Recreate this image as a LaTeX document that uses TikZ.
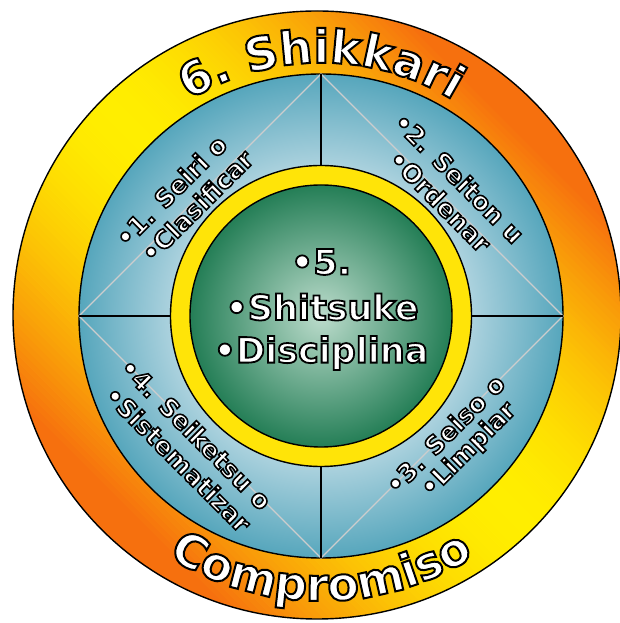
\documentclass[tikz,border=0pt]{standalone}
\usepackage{fontspec}
\setmainfont{DejaVu Sans}
\usetikzlibrary{decorations.text}

\definecolor{ringO}{RGB}{246,112,14}
\definecolor{ringY}{RGB}{255,238,0}
\definecolor{blueL}{RGB}{172,210,222}
\definecolor{blueD}{RGB}{86,166,188}
\definecolor{yel}{RGB}{255,228,8}
\definecolor{greenL}{RGB}{188,220,204}
\definecolor{greenD}{RGB}{36,126,86}
\definecolor{diag}{RGB}{205,205,205}

\pgfdeclareradialshading{bluesh}{\pgfpoint{0bp}{0bp}}{color(0bp)=(blueL); color(15.5bp)=(blueL); color(25bp)=(blueD); color(50bp)=(blueD)}
\pgfdeclareradialshading{greensh}{\pgfpoint{0bp}{0bp}}{color(0bp)=(greenL); color(25bp)=(greenD); color(50bp)=(greenD)}

% white text with a black outline (PDF text render mode 2)
\newcommand\olt[2][1.6]{{\color{white}\special{pdf:literal direct 0 0 0 RG #1 w 2 Tr}#2\special{pdf:literal direct 0 Tr}}}

\newcommand\ringfont{\fontsize{25}{29}\selectfont\bfseries}
\newcommand\centfont{\fontsize{35}{40}\selectfont\bfseries}
\newcommand\arcfont{\fontsize{46}{52}\selectfont\bfseries}

% #1 text, #2 start angle, #3 end angle, #4 radius
\newcommand\arctext[4]{%
  \path[shift={(C)}, decorate,
    decoration={text along path, text align=center,
      text={|\arcfont\color{white}\special{pdf:literal direct 0 0 0 RG 2 w 2 Tr}|#1}}]
    (#2:#4) arc[start angle=#2, end angle=#3, radius=#4];
}

\tikzset{
  rim/.style={draw=black, line width=1.4pt},
  diagline/.style={draw=diag, line width=1.2pt},
  divline/.style={draw=black, line width=1.2pt},
  lbl/.style={inner sep=0pt, font=\ringfont},
  clbl/.style={inner sep=0pt, font=\centfont}
}

\begin{document}
\begin{tikzpicture}[x=1pt, y=1pt]
\useasboundingbox (0,0) rectangle (620,623);
\fill[white] (0,0) rectangle (620,623);

\coordinate (O) at (317,308);
\coordinate (C) at (321,307);
\coordinate (bN) at (321,549);
\coordinate (bE) at (563,307);
\coordinate (bS) at (321,65);
\coordinate (bW) at (79,307);
\coordinate (yN) at (321,457.5);
\coordinate (yE) at (471.5,307);
\coordinate (yS) at (321,156.5);
\coordinate (yW) at (170.5,307);

% outer ring: orange towards NE and SW, yellow along the NW-SE diagonal
\begin{scope}
  \clip (O) circle[radius=304];
  \foreach \i in {-62,...,61}{
    \pgfmathsetmacro\orf{100*min(1,((abs(\i+0.5)*5)/272)^1.8)}
    \fill[ringO!\orf!ringY, shift={(O)}, rotate=-45] (-320,\i*5) rectangle (320,\i*5+5.6);
  }
\end{scope}
\draw[rim] (O) circle[radius=304];

% blue ring
\shade[shading=bluesh] (C) circle[radius=242];
\draw[rim] (C) circle[radius=242];
\draw[diagline] (bN) -- (bE) -- (bS) -- (bW) -- cycle;
\draw[divline] (bN) -- (yN);
\draw[divline] (bE) -- (yE);
\draw[divline] (bS) -- (yS);
\draw[divline] (bW) -- (yW);

% inner yellow ring and green disc
\fill[yel] (C) circle[radius=150.5];
\draw[rim] (C) circle[radius=150.5];
\shade[shading=greensh] (C) circle[radius=131];
\draw[rim] (C) circle[radius=131];

% ring labels
\node[lbl, rotate=45]  (t1a) at (171,432) {\olt{•1. Seiri o}};
\node[lbl, rotate=45]  (t1b) at (197,417) {\olt{•Clasificar}};
\node[lbl, rotate=-45] (t2a) at (459,445) {\olt{•2. Seiton u}};
\node[lbl, rotate=-45] (t2b) at (440,422) {\olt{•Ordenar}};
\node[lbl, rotate=45]  (t3a) at (445,189) {\olt{•3. Seiso o}};
\node[lbl, rotate=45]  (t3b) at (469,173) {\olt{•Limpiar}};
\node[lbl, rotate=-45] (t4a) at (196,189) {\olt{•4. Seiketsu o}};
\node[lbl, rotate=-45] (t4b) at (178,164) {\olt{•Sistematizar}};

% centre labels
\node[clbl] (c1) at (321,361) {\olt[1.8]{•5.}};
\node[clbl] (c2) at (322,316) {\olt[1.8]{•Shitsuke}};
\node[clbl] (c3) at (321,270) {\olt[1.8]{•Disciplina}};

% curved titles
\arctext{6. Shikkari}{150}{30}{253}
\arctext{Compromiso}{215}{325}{285}
\end{tikzpicture}
\end{document}
